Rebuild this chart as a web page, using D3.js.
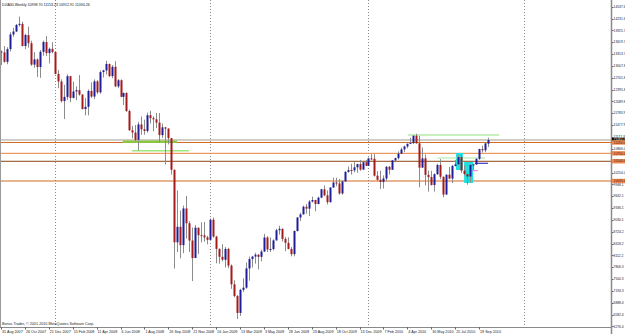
<!DOCTYPE html>
<html><head><meta charset="utf-8">
<script src="https://cdn.jsdelivr.net/npm/d3@7"></script>
<style>html,body{margin:0;padding:0;background:#fff;overflow:hidden}svg{display:block}</style>
</head><body>
<script>
// ---- DATA (weekly candles, 31 Aug 2007 .. 15 Oct 2010) ----
const opens=[13379,13358,13113,13442,13820,13896,14066,14093,13522,13806,13595,13042,13176,12980,13371,13625,13339,13450,13366,12800,12606,12099,12207,12743,12182,12348,12381,12266,11894,11951,12361,12216,12609,12325,12849,12891,13058,12745,12986,12479,12638,12210,12307,11842,11346,11288,11100,11496,11370,11326,11734,11659,11628,11543,11220,11421,11388,11143,10325,8451,8852,8378,9325,8943,8497,8046,8829,8635,8629,8579,8515,9034,8599,8281,8077,8000,8280,7850,7366,7063,6627,7224,7279,7776,8018,8083,8131,8076,8212,8575,8268,8277,8500,8764,8799,8539,8438,8280,8146,8743,9093,9172,9370,9321,9505,9544,9441,9605,9820,9665,9488,9865,9996,9972,9713,10023,10271,10318,10310,10388,10471,10329,10520,10428,10618,10610,10172,10067,10012,10099,10402,10325,10567,10625,10742,10851,10927,10997,11019,11204,11009,10380,10620,10193,10137,9931,10211,10450,10144,9686,10198,10098,10424,10466,10653,10303,10213,10150,10448,10462,10607,10860,10829,10999];
const highs=[13410,13520,13490,13880,13990,14090,14279,14150,13840,14020,13660,13360,13200,13420,13660,13780,13480,13620,13370,12900,12660,12520,12790,12750,12600,12480,12770,12280,12180,12400,12580,12660,12640,12890,12910,13140,13070,13030,13130,12670,12660,12320,12330,11880,11460,11480,11560,11700,11620,11800,11850,11710,11790,11790,11520,11430,11400,11150,10330,9790,9270,9400,9650,9000,8830,8900,8830,8970,8980,8620,9070,9090,8620,8290,8400,8330,8310,7880,7470,7090,7250,7520,7930,8080,8100,8180,8150,8260,8670,8610,8580,8530,8800,8880,8810,8590,8580,8330,8760,9100,9220,9400,9440,9540,9630,9550,9630,9830,9920,9790,9880,10120,10120,10090,10050,10290,10410,10480,10520,10480,10580,10530,10580,10640,10730,10730,10290,10300,10180,10420,10420,10580,10640,10800,10900,10950,11000,11150,11210,11258,11200,10900,10720,10300,10300,10230,10480,10600,10150,10200,10400,10450,10580,10710,10720,10440,10230,10460,10480,10620,10870,10950,11030,11153];
const lows=[13030,13090,13050,13380,13760,13880,14020,13510,13440,13480,13010,12960,12720,12700,13270,13260,13070,13330,12790,12430,12060,11634,12130,12070,12170,12120,12240,11880,11730,11730,12180,12150,12280,12290,12710,12790,12720,12690,12460,12430,12200,12000,11820,11330,11140,11050,10827,11230,11230,11280,11520,11320,11400,11030,11150,10460,10980,10200,7773,8200,8040,8170,8550,8200,7450,8050,8150,8450,8470,8400,8490,8570,7910,7900,7960,7800,7780,7250,7030,6470,6550,7170,7250,7460,7800,7900,7750,7960,8200,8200,8200,8240,8500,8650,8470,8220,8270,8090,8090,8730,9000,9170,9190,9130,9480,9250,9430,9590,9640,9430,9480,9860,9900,9680,9680,10020,10250,10200,10260,10250,10300,10320,10420,10420,10570,10150,10030,9830,9840,10030,10200,10320,10520,10590,10740,10780,10880,10990,10990,11000,9870,10380,9920,9760,9920,9760,10190,10080,9614,9680,10080,9980,10410,10460,10240,10180,9940,10000,10320,10450,10580,10770,10780,10913];
const closes=[13358,13113,13442,13820,13896,14066,14093,13522,13806,13595,13042,13176,12980,13371,13625,13339,13450,13366,12800,12606,12099,12207,12743,12182,12348,12381,12266,11894,11951,12361,12216,12609,12325,12849,12891,13058,12745,12986,12479,12638,12210,12307,11842,11346,11288,11100,11496,11370,11326,11734,11659,11628,11543,11220,11421,11388,11143,10325,8451,8852,8378,9325,8943,8497,8046,8829,8635,8629,8579,8515,9034,8599,8281,8077,8000,8280,7850,7366,7063,6627,7224,7279,7776,8018,8083,8131,8076,8212,8575,8268,8277,8500,8764,8799,8539,8438,8280,8146,8743,9093,9172,9370,9321,9505,9544,9441,9605,9820,9665,9488,9865,9996,9972,9713,10023,10271,10318,10310,10388,10471,10329,10520,10428,10618,10610,10172,10067,10012,10099,10402,10325,10567,10625,10742,10851,10927,10997,11019,11204,11009,10380,10620,10193,10137,9931,10211,10450,10144,9686,10198,10098,10424,10466,10653,10303,10213,10150,10448,10462,10607,10860,10829,11006,11094];
const dateLabels=["31 Aug 2007","26 Oct 2007","21 Dec 2007","15 Feb 2008","11 Apr 2008","6 Jun 2008","1 Aug 2008","26 Sep 2008","21 Nov 2008","16 Jan 2009","13 Mar 2009","3 May 2009","28 Jun 2009","23 Aug 2009","18 Oct 2009","13 Dec 2009","7 Feb 2010","4 Apr 2010","30 May 2010","25 Jul 2010","19 Sep 2010"];
const dateLabelBars=[0,8,16,24,32,40,48,56,64,72,80,88,96,104,112,120,128,136,144,152,160];
const yearSeparatorBars=[18,70,123,175];
const priceTicks=[14537.6,14231.6,13925.7,13619.7,13313.7,13007.8,12701.8,12395.8,12089.8,11783.9,11477.9,11171.9,10866.0,10560.0,10254.0,9948.1,9642.1,9336.1,9030.1,8724.2,8418.2,8112.2,7806.3,7500.3,7194.3,6888.4,6582.4,6276.4];
const title="DJIA30,Weekly  10998.70 11153.23 10912.91 11094.26";
const footer="Bonus Trader, \u00A9 2001-2010 MetaQuotes Software Corp.";
// horizontal price levels
const levelPrices=[11094,11030,10750,10544,10035];
const levelColors=["#a39a93","#d2691e","#e8823c","#8b4513","#d2691e"];
const levelTagFill=["#000000","#ef8a52","#ef8a52","#ef8a52","#ef8a52"];
// trend/annotation segments: [barFrom, barTo], price
const segBars=[[40.8,58.9],[43.8,62.9],[136.2,166.7],[146,162],[158.6,163],[157.6,159.6]];
const segPrices=[11050,10817,11223,10629,10492,10301];
const segColors=["#8cc63f","#9be87f","#8fe07a","#a8e89a","#3a3ac8","#e070e0"];
const segWidths=[2.4,1.6,1,1,1.2,1];
// rectangles: [barFrom, barTo], [priceTop, priceBottom]
const rectBars=[[152.3,154.6],[155,158]];
const rectPrices=[[10758,10319],[10526,9983]];

// ---- CHART ----
const W=625,H=334, plotR=611, plotB=327;
const svg=d3.select("body").append("svg").attr("width",W).attr("height",H);
const x=d3.scaleLinear().domain([0,163]).range([1,488]);
const y=d3.scaleLinear().domain([6470,14279]).range([319,16.7]);
const font="Liberation Sans, Arial, sans-serif";

svg.append("rect").attr("x",0).attr("y",0).attr("width",W).attr("height",H).attr("fill","#fff");
const plot=svg.append("g");
plot.selectAll("line.sep").data(yearSeparatorBars).join("line")
  .attr("x1",d=>Math.round(x(d))+0.5).attr("x2",d=>Math.round(x(d))+0.5)
  .attr("y1",0).attr("y2",plotB).attr("stroke","#8a8a8a").attr("stroke-width",1).attr("stroke-dasharray","1,2");
plot.selectAll("line.lvl").data(levelPrices).join("line")
  .attr("x1",0).attr("x2",plotR).attr("y1",d=>y(d)).attr("y2",d=>y(d))
  .attr("stroke",(d,i)=>levelColors[i]).attr("stroke-width",1);
plot.selectAll("rect.box").data(rectBars).join("rect")
  .attr("x",d=>x(d[0])).attr("width",d=>x(d[1])-x(d[0]))
  .attr("y",(d,i)=>y(rectPrices[i][0])).attr("height",(d,i)=>y(rectPrices[i][1])-y(rectPrices[i][0]))
  .attr("fill","#1ee0e0");
plot.selectAll("line.seg").data(segBars).join("line")
  .attr("x1",d=>x(d[0])).attr("x2",d=>x(d[1]))
  .attr("y1",(d,i)=>y(segPrices[i])).attr("y2",(d,i)=>y(segPrices[i]))
  .attr("stroke",(d,i)=>segColors[i]).attr("stroke-width",(d,i)=>segWidths[i]);
const bars=d3.range(closes.length);
plot.selectAll("line.wick").data(bars).join("line")
  .attr("x1",i=>Math.round(x(i))+0.5).attr("x2",i=>Math.round(x(i))+0.5)
  .attr("y1",i=>y(highs[i])).attr("y2",i=>y(lows[i]))
  .attr("stroke","#8c8c8c").attr("stroke-width",1);
plot.selectAll("rect.body").data(bars).join("rect")
  .attr("x",i=>Math.round(x(i))-0.5).attr("width",2)
  .attr("y",i=>y(Math.max(opens[i],closes[i])))
  .attr("height",i=>Math.max(1,Math.abs(y(opens[i])-y(closes[i]))))
  .attr("fill",i=>closes[i]>=opens[i]?"#1e1e9a":"#a31c1c");

svg.append("line").attr("x1",0.5).attr("x2",0.5).attr("y1",0).attr("y2",plotB).attr("stroke","#9a9a9a");
svg.append("line").attr("x1",0).attr("x2",plotR+1).attr("y1",plotB+0.5).attr("y2",plotB+0.5).attr("stroke","#8a8a8a");
svg.append("line").attr("x1",plotR+0.5).attr("x2",plotR+0.5).attr("y1",0).attr("y2",H).attr("stroke","#8a8a8a").attr("stroke-width",1.5);

const ax=svg.append("g");
ax.selectAll("line.tk").data(priceTicks).join("line")
  .attr("x1",plotR+1).attr("x2",plotR+2.5).attr("y1",d=>Math.round(y(d))+0.5).attr("y2",d=>Math.round(y(d))+0.5)
  .attr("stroke","#666");
ax.selectAll("text.pl").data(priceTicks).join("text")
  .attr("x",plotR+2.6).attr("y",d=>Math.min(y(d)+1.2,333.5))
  .attr("font-family",font).attr("font-size",3.3).attr("fill","#222")
  .text(d=>d.toFixed(1));
const tags=ax.selectAll("g.tag").data(levelPrices).join("g");
tags.append("rect").attr("x",plotR+1).attr("width",W-plotR).attr("y",d=>y(d)-2.2).attr("height",4.4)
  .attr("fill",(d,i)=>levelTagFill[i]);
tags.append("text").attr("x",plotR+2.6).attr("y",d=>y(d)+1.2)
  .attr("font-family",font).attr("font-size",3.3).attr("fill",(d,i)=>i===0?"#fff":"#5a2000")
  .text(d=>d.toFixed(1));

const bx=svg.append("g");
bx.selectAll("line.dt").data(dateLabelBars).join("line")
  .attr("x1",d=>Math.round(x(d))+0.5).attr("x2",d=>Math.round(x(d))+0.5)
  .attr("y1",plotB).attr("y2",plotB+2.5).attr("stroke","#666");
bx.selectAll("text.dl").data(dateLabels).join("text")
  .attr("x",(d,i)=>x(dateLabelBars[i])+1).attr("y",332.6)
  .attr("font-family",font).attr("font-size",3.7).attr("fill","#222")
  .text(d=>d);

svg.append("text").attr("x",2).attr("y",6).attr("font-family",font).attr("font-size",3.6).attr("fill","#111").text(title);
svg.append("text").attr("x",2).attr("y",324.5).attr("font-family",font).attr("font-size",3.7).attr("fill","#222").text(footer);
</script>
</body></html>
